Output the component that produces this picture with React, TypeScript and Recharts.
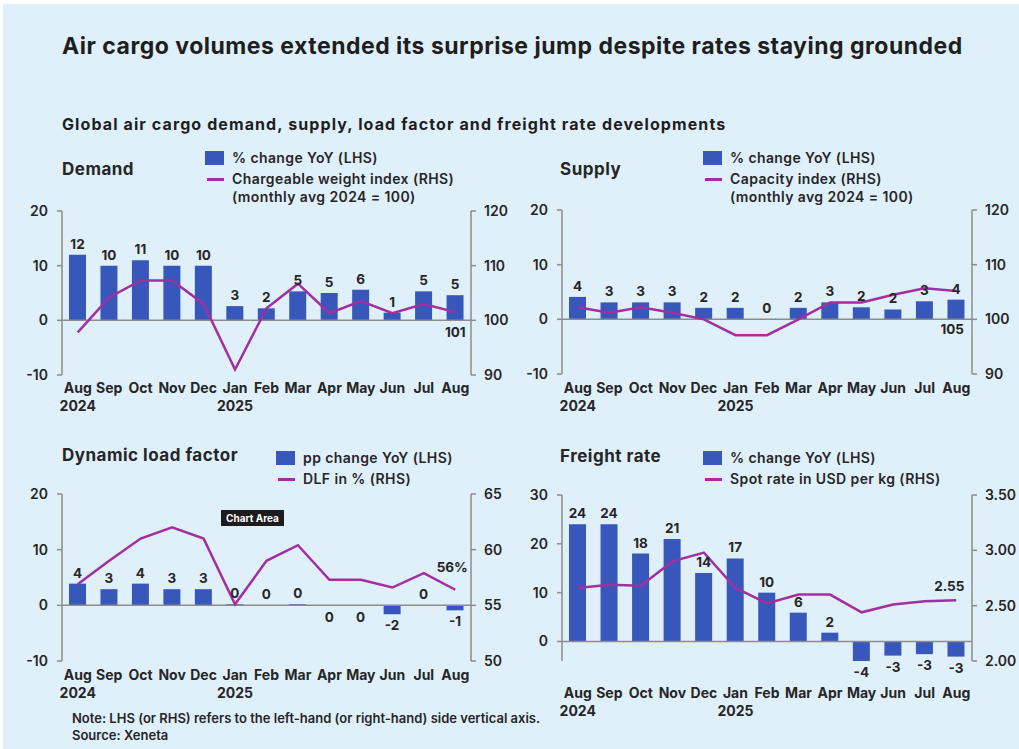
import { ComposedChart, Bar, Line, XAxis, YAxis, ReferenceLine, LabelList } from 'recharts'

const months = ['Aug', 'Sep', 'Oct', 'Nov', 'Dec', 'Jan', 'Feb', 'Mar', 'Apr', 'May', 'Jun', 'Jul', 'Aug']
const years = ['2024', '', '', '', '', '2025', '', '', '', '', '', '', '']

const demandYoY = [12, 10, 11, 10, 10, 2.6, 2.2, 5.3, 5, 5.6, 1.4, 5.3, 4.6]
const chargeableWeight = [97.8, 104.2, 107.3, 107.3, 103, 91, 102.2, 106.7, 101.3, 103.5, 101.3, 103, 101.5]
const supplyYoY = [4.1, 3.1, 3.1, 3.1, 2.1, 2.1, 0.05, 2.1, 3.1, 2.2, 1.8, 3.3, 3.6]
const capacityIndex = [102.2, 101.2, 102.2, 101.2, 100, 97.1, 97.1, 100, 103.1, 103.1, 104.5, 105.7, 105.2]
const dlfChange = [3.9, 2.9, 3.9, 2.9, 2.9, 0.2, 0.05, 0.2, -0.1, -0.1, -1.6, 0.05, -0.9]
const dlfPct = [56.9, 59, 61, 62, 61, 55.1, 59, 60.4, 57.3, 57.3, 56.6, 57.9, 56.4]
const freightYoY = [24, 24, 18, 21, 14, 17, 10, 5.9, 1.8, -4, -2.9, -2.6, -3.1]
const spotRate = [2.66, 2.69, 2.68, 2.9, 2.98, 2.66, 2.52, 2.6, 2.6, 2.44, 2.51, 2.54, 2.55]

const pctTicks = [-10, 0, 10, 20]
const indexTicks = [90, 100, 110, 120]
const dlfTicks = [50, 55, 60, 65]
const freightTicks = [0, 10, 20, 30]
const spotTicks = [2, 2.5, 3, 3.5]

const BLUE = '#3857ba'
const MAGENTA = '#a22ea0'
const AXIS = '#8c8c8c'
const TEXT = '#262626'
const FONT = 'Inter, "Open Sans", sans-serif'

const build = (bars: number[], line: number[]) =>
  months.map((m, i) => ({ month: m, bar: bars[i], line: line[i] }))

type PanelProps = {
  data: { month: string; bar: number; line: number }[]
  plotLeft: number
  plotRight: number
  plotTop: number
  plotBottom: number
  leftDomain: [number, number]
  leftTicks: number[]
  rightDomain: [number, number]
  rightTicks: number[]
  rightFmt?: (v: number) => string
  lastLabel: string
  lastDx: number
  lastDy: number
  tickOffset: number
}

function Panel(p: PanelProps) {
  const top = p.plotTop - 20
  const left = p.plotLeft - 60
  const width = p.plotRight - p.plotLeft + 60 + 47
  const height = p.plotBottom - top + 65

  const monthTick = (props: any) => {
    const { x, y, payload } = props
    const yr = years[payload.index]
    return (
      <g>
        <text x={x} y={y + p.tickOffset} textAnchor="middle" fontSize={14} fontWeight={700} fill={TEXT}>
          {payload.value}
        </text>
        {yr && (
          <text x={x} y={y + p.tickOffset + 18} textAnchor="middle" fontSize={14} fontWeight={700} fill={TEXT}>
            {yr}
          </text>
        )}
      </g>
    )
  }

  const barLabel = (props: any) => {
    const { x, y, width: w, height: h, value } = props
    const t = Math.min(y, y + h)
    const b = Math.max(y, y + h)
    const neg = value < 0
    return (
      <text x={x + w / 2} y={neg ? b + 16 : t - 6} textAnchor="middle" fontSize={13.5} fontWeight={700} fill={TEXT}>
        {Math.round(value)}
      </text>
    )
  }

  const lastLabel = (props: any) => {
    const { x, y, index } = props
    if (index !== p.data.length - 1) return null
    return (
      <text x={x + p.lastDx} y={y + p.lastDy} textAnchor="middle" fontSize={13.5} fontWeight={700} fill={TEXT}>
        {p.lastLabel}
      </text>
    )
  }

  return (
    <div style={{ position: 'absolute', left, top }}>
      <ComposedChart
        width={width}
        height={height}
        data={p.data}
        margin={{ top: 20, right: 2, left: 10, bottom: 0 }}
        barSize={17}
      >
        <XAxis
          dataKey="month"
          axisLine={false}
          tickLine={false}
          tickSize={0}
          tickMargin={0}
          interval={0}
          height={65}
          tick={monthTick}
        />
        <YAxis
          yAxisId="left"
          width={50}
          domain={p.leftDomain}
          ticks={p.leftTicks}
          allowDataOverflow
          axisLine={{ stroke: AXIS, strokeWidth: 1.5 }}
          tickLine={{ stroke: AXIS, strokeWidth: 1.5 }}
          tickSize={5}
          tickMargin={9}
          tick={{ fill: TEXT, fontSize: 14, fontWeight: 600 }}
        />
        <YAxis
          yAxisId="right"
          orientation="right"
          width={45}
          domain={p.rightDomain}
          ticks={p.rightTicks}
          allowDataOverflow
          tickFormatter={p.rightFmt}
          axisLine={{ stroke: AXIS, strokeWidth: 1.5 }}
          tickLine={{ stroke: AXIS, strokeWidth: 1.5 }}
          tickSize={5}
          tickMargin={8}
          tick={{ fill: TEXT, fontSize: 14, fontWeight: 600 }}
        />
        <ReferenceLine yAxisId="left" y={0} stroke={AXIS} strokeWidth={1.5} />
        <Bar yAxisId="left" dataKey="bar" fill={BLUE} isAnimationActive={false}>
          <LabelList dataKey="bar" content={barLabel} />
        </Bar>
        <Line
          yAxisId="right"
          dataKey="line"
          stroke={MAGENTA}
          strokeWidth={2.5}
          dot={false}
          type="linear"
          isAnimationActive={false}
        >
          <LabelList dataKey="line" content={lastLabel} />
        </Line>
      </ComposedChart>
    </div>
  )
}

function Legend({ x, y, barText, lineText, lineText2 }: { x: number; y: number; barText: string; lineText: string; lineText2?: string }) {
  const txt = {
    position: 'absolute' as const,
    fontSize: 14,
    fontWeight: 600,
    letterSpacing: 0.4,
    color: TEXT,
    whiteSpace: 'nowrap' as const,
    lineHeight: '18px',
  }
  return (
    <>
      <div style={{ position: 'absolute', left: x, top: y - 7, width: 19, height: 14, background: BLUE }} />
      <div style={{ ...txt, left: x + 27, top: y - 9 }}>{barText}</div>
      <div style={{ position: 'absolute', left: x + 2, top: y + 20, width: 17, height: 3, background: MAGENTA }} />
      <div style={{ ...txt, left: x + 27, top: y + 12 }}>{lineText}</div>
      {lineText2 && <div style={{ ...txt, left: x + 27, top: y + 30 }}>{lineText2}</div>}
    </>
  )
}

const panelTitle = (left: number, top: number, text: string) => (
  <div style={{ position: 'absolute', left, top, fontSize: 17, fontWeight: 700, letterSpacing: 0.5, color: TEXT, whiteSpace: 'nowrap' }}>
    {text}
  </div>
)

export default function App() {
  return (
    <div
      style={{
        position: 'absolute',
        left: 0,
        top: 0,
        width: 1019,
        height: 749,
        overflow: 'hidden',
        background: '#dff0fb',
        fontFamily: FONT,
        borderTop: '4px solid #fff',
        borderLeft: '3px solid #fff',
        boxSizing: 'border-box',
      }}
    >
      <div style={{ position: 'absolute', left: 59, top: 28, fontSize: 23, fontWeight: 700, letterSpacing: 0.5, color: '#1e1e1e', whiteSpace: 'nowrap' }}>
        Air cargo volumes extended its surprise jump despite rates staying grounded
      </div>
      <div style={{ position: 'absolute', left: 59, top: 110, fontSize: 16, fontWeight: 700, letterSpacing: 1.1, color: '#1e1e1e', whiteSpace: 'nowrap' }}>
        Global air cargo demand, supply, load factor and freight rate developments
      </div>

      {panelTitle(59, 155, 'Demand')}
      <Legend x={202} y={154} barText="% change YoY (LHS)" lineText="Chargeable weight index (RHS)" lineText2="(monthly avg 2024 = 100)" />
      {panelTitle(557, 155, 'Supply')}
      <Legend x={700} y={154} barText="% change YoY (LHS)" lineText="Capacity index (RHS)" lineText2="(monthly avg 2024 = 100)" />
      {panelTitle(59, 441, 'Dynamic load factor')}
      <Legend x={273} y={454} barText="pp change YoY (LHS)" lineText="DLF in % (RHS)" />
      {panelTitle(557, 442, 'Freight rate')}
      <Legend x={700} y={454} barText="% change YoY (LHS)" lineText="Spot rate in USD per kg (RHS)" />

      <Panel
        data={build(demandYoY, chargeableWeight)}
        plotLeft={59} plotRight={468} plotTop={207} plotBottom={371}
        leftDomain={[-10, 20]} leftTicks={pctTicks}
        rightDomain={[90, 120]} rightTicks={indexTicks}
        lastLabel="101" lastDx={0} lastDy={25}
        tickOffset={18}
      />
      <Panel
        data={build(supplyYoY, capacityIndex)}
        plotLeft={559} plotRight={969} plotTop={206} plotBottom={370}
        leftDomain={[-10, 20]} leftTicks={pctTicks}
        rightDomain={[90, 120]} rightTicks={indexTicks}
        lastLabel="105" lastDx={-4} lastDy={43}
        tickOffset={19}
      />
      <Panel
        data={build(dlfChange, dlfPct)}
        plotLeft={59} plotRight={468} plotTop={490} plotBottom={657}
        leftDomain={[-10, 20]} leftTicks={pctTicks}
        rightDomain={[50, 65]} rightTicks={dlfTicks}
        lastLabel="56%" lastDx={-3} lastDy={-18}
        tickOffset={19}
      />
      <Panel
        data={build(freightYoY, spotRate)}
        plotLeft={559} plotRight={969} plotTop={491} plotBottom={657}
        leftDomain={[-4, 30]} leftTicks={freightTicks}
        rightDomain={[2, 3.5]} rightTicks={spotTicks}
        rightFmt={(v: number) => v.toFixed(2)}
        lastLabel="2.55" lastDx={-7} lastDy={-9}
        tickOffset={37}
      />

      <div style={{ position: 'absolute', left: 218, top: 506, width: 63, height: 16, background: '#1c1c1c', color: '#fff', fontSize: 10, fontWeight: 700, lineHeight: '16px', textAlign: 'center', whiteSpace: 'nowrap' }}>
        Chart Area
      </div>

      <div style={{ position: 'absolute', left: 69, top: 706, fontSize: 13, fontWeight: 600, color: TEXT, lineHeight: '17px', whiteSpace: 'nowrap' }}>
        Note: LHS (or RHS) refers to the left-hand (or right-hand) side vertical axis.
        <br />
        Source: Xeneta
      </div>
    </div>
  )
}
